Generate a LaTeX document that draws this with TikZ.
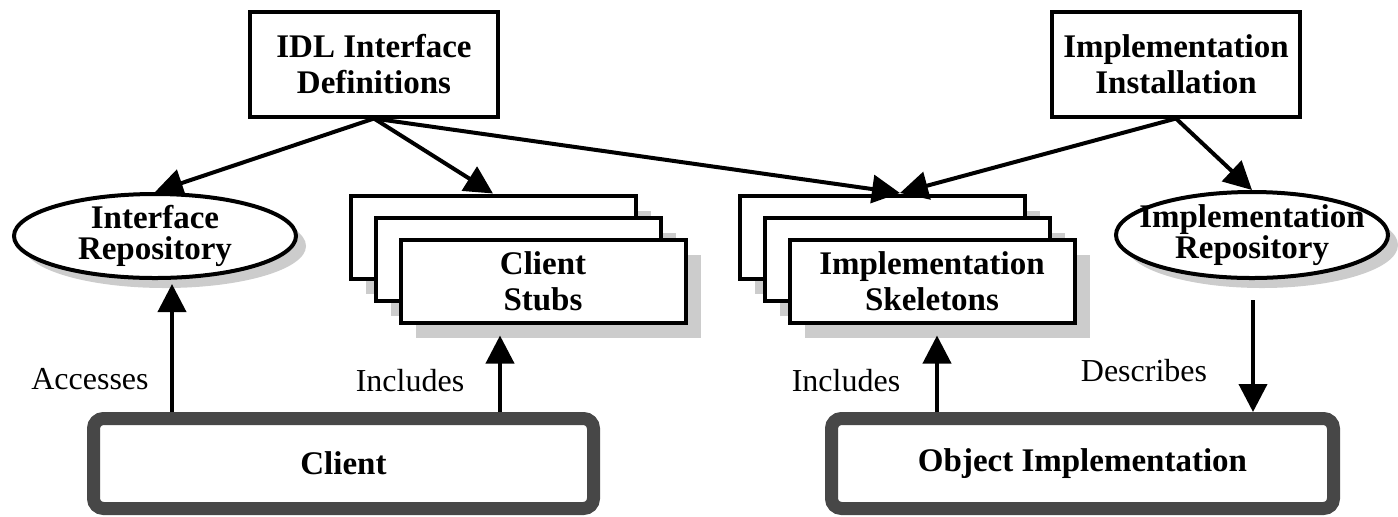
\documentclass[tikz,border=0pt]{standalone}
\usepackage{fontspec}
\setmainfont{Liberation Serif}
\usetikzlibrary{positioning,arrows.meta,shapes.geometric,shadows,calc}

\begin{document}
\begin{tikzpicture}[
  x=0.5pt, y=-0.5pt,
  font=\fontsize{16.5}{18}\selectfont\bfseries,
  defbox/.style={draw, line width=2pt, minimum width=124pt, minimum height=52.5pt, align=center, inner sep=2pt},
  repo/.style={ellipse, draw, fill=white, line width=2pt, minimum width=141pt, minimum height=42pt,
    inner xsep=-10pt, inner ysep=-1pt, align=center, font=\fontsize{16.5}{15.5}\selectfont\bfseries,
    drop shadow={shadow xshift=5pt, shadow yshift=-5pt, fill=black!20, opacity=1}},
  stack/.style={draw, fill=white, line width=2pt, minimum width=142.5pt, minimum height=41.5pt, align=center, inner sep=1pt,
    drop shadow={shadow xshift=7.5pt, shadow yshift=-7.5pt, fill=black!20, opacity=1}},
  prog/.style={draw=black!72, fill=white, line width=6.5pt, rounded corners=5pt, minimum width=250pt, minimum height=45pt},
  arr/.style={-{Triangle[length=14pt, width=14pt]}, line width=2pt},
  lbl/.style={font=\fontsize{16}{18}\selectfont},
]
  \useasboundingbox (0,0) rectangle (1398,516);

  \node[defbox] (idl) at (374,64) {IDL Interface\\Definitions};
  \node[defbox] (inst) at (1176,64) {Implementation\\Installation};

  \node[repo] (ifrepo) at (155,236) {Interface\\Repository};
  \node[repo, minimum width=136pt, minimum height=43pt] (imrepo) at (1252,235) {Implementation\\Repository};

  \node[stack] (stubs3) at (493,237) {};
  \node[stack] (stubs2) at ($(stubs3)+(25,22)$) {};
  \node[stack] (stubs1) at ($(stubs2)+(25,22)$) {Client\\Stubs};

  \node[stack] (skel3) at (882,237) {};
  \node[stack] (skel2) at ($(skel3)+(25,22)$) {};
  \node[stack] (skel1) at ($(skel2)+(25,22)$) {Implementation\\Skeletons};

  \node[prog] (client) at (343.5,463.5) {Client};
  \node[prog, minimum width=251pt] (objimpl) at (1082.5,463.5) {Object Implementation};

  \coordinate (meet) at (900,193);
  \coordinate (accin) at ($(ifrepo.south)+(17,4)$);
  \coordinate (stubin) at ($(stubs1.south)+(-43,11)$);
  \coordinate (skelin) at ($(skel1.south)+(5,11)$);
  \coordinate (desc) at ($(imrepo.south)+(1,20)$);

  \draw[arr] (idl.south) -- (ifrepo.north);
  \draw[arr] (idl.south) -- (stubs3.north);
  \draw[arr] (idl.south) -- (meet);
  \draw[arr] (inst.south) -- (meet);
  \draw[arr] (inst.south) -- (imrepo.north);

  \draw[arr] (accin |- client.north) -- (accin);
  \draw[arr] (stubin |- client.north) -- (stubin);
  \draw[arr] (skelin |- objimpl.north) -- (skelin);
  \draw[arr] (desc) -- (desc |- objimpl.north);

  \node[lbl] (acc) at (90,379) {Accesses};
  \node[lbl] (inc1) at (410,381) {Includes};
  \node[lbl] (inc2) at (846,381) {Includes};
  \node[lbl] (dsc) at (1144,371) {Describes};
\end{tikzpicture}
\end{document}
